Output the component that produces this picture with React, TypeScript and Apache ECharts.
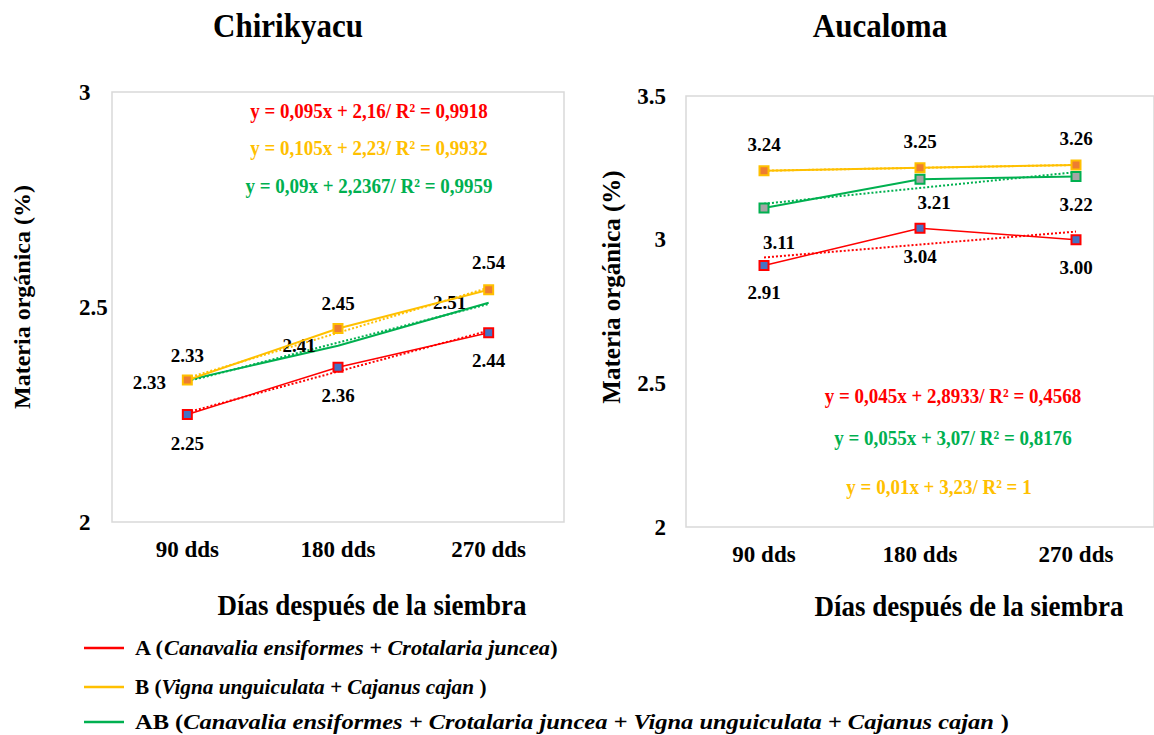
import React, { useEffect, useRef } from "react";
import * as echarts from "echarts";

const categories = ["90 dds", "180 dds", "270 dds"];
const yTicksChiri = { min: 2, max: 3, interval: 0.5 };
const yTicksAuca = { min: 2, max: 3.5, interval: 0.5 };

// Chirikyacu
const chiriA = [2.25, 2.36, 2.44];
const chiriB = [2.33, 2.45, 2.54];
const chiriAB = [2.33, 2.41, 2.51];
const chiriTrendA = [2.255, 2.35, 2.445];
const chiriTrendB = [2.335, 2.44, 2.545];
const chiriTrendAB = [2.327, 2.417, 2.507];

// Aucaloma
const aucaA = [2.91, 3.04, 3.0];
const aucaB = [3.24, 3.25, 3.26];
const aucaAB = [3.11, 3.21, 3.22];
const aucaTrendA = [2.938, 2.983, 3.028];
const aucaTrendB = [3.24, 3.25, 3.26];
const aucaTrendAB = [3.125, 3.18, 3.235];

const eqChiri = [
  { text: "y = 0,095x + 2,16/ R² = 0,9918", color: "#FF0000" },
  { text: "y = 0,105x + 2,23/ R² = 0,9932", color: "#FFC000" },
  { text: "y = 0,09x + 2,2367/ R² = 0,9959", color: "#00B050" },
];
const eqAuca = [
  { text: "y = 0,045x + 2,8933/ R² = 0,4568", color: "#FF0000" },
  { text: "y = 0,055x + 3,07/ R² = 0,8176", color: "#00B050" },
  { text: "y = 0,01x + 3,23/ R² = 1", color: "#FFC000" },
];

const legendItems = [
  { code: "A (", species: "Canavalia ensiformes + Crotalaria juncea", end: ")", color: "#FF0000" },
  { code: "B (", species: "Vigna unguiculata + Cajanus cajan", end: " )", color: "#FFC000" },
  {
    code: "AB (",
    species: "Canavalia ensiformes + Crotalaria juncea + Vigna unguiculata + Cajanus cajan",
    end: " )",
    color: "#00B050",
  },
];

const FONT = "Liberation Serif";
const RED = "#FF0000";
const GOLD = "#FFC000";
const GREEN = "#00B050";

function withLabels(values: number[], offsets: number[][]) {
  return values.map((v, i) => ({
    value: v,
    label: {
      show: true,
      position: "inside",
      offset: offsets[i],
      formatter: (p: any) => Number(p.value).toFixed(2),
      color: "#000",
      fontFamily: FONT,
      fontWeight: "bold",
      fontSize: 19,
    },
  }));
}

function trend(name: string, data: number[], color: string, idx: number) {
  return {
    name,
    type: "line",
    xAxisIndex: idx,
    yAxisIndex: idx,
    data,
    showSymbol: false,
    symbol: "none",
    lineStyle: { color, width: 2, type: [2, 2] },
    z: 2,
    silent: true,
  };
}

function mainLine(
  name: string,
  data: any[],
  color: string,
  width: number,
  symbolFill: string | null,
  idx: number,
  z: number
) {
  return {
    name,
    type: "line",
    xAxisIndex: idx,
    yAxisIndex: idx,
    data,
    symbol: "rect",
    showSymbol: true,
    symbolSize: symbolFill ? 9 : 1,
    itemStyle: symbolFill
      ? { color: symbolFill, borderColor: color, borderWidth: 2 }
      : { color: "rgba(0,0,0,0)", borderWidth: 0 },
    lineStyle: { color, width },
    z,
  };
}

function txt(x: number, y: number, text: string, size: number, color = "#000", rotation = 0, sy = 1.12) {
  return {
    type: "text",
    x,
    y,
    rotation,
    scaleY: sy,
    z: 10,
    style: {
      text,
      fontFamily: FONT,
      fontWeight: "bold",
      fontSize: size,
      fill: color,
      align: "center",
      verticalAlign: "middle",
    },
  };
}

export default function App() {
  const ref = useRef<HTMLDivElement>(null);
  useEffect(() => {
    document.body.style.margin = "0";
    const chart = echarts.init(ref.current!, undefined, { renderer: "svg" });

    const axisLabelX = {
      color: "#000",
      fontFamily: FONT,
      fontWeight: "bold",
      fontSize: 23,
      margin: 16,
    };

    const graphic: any[] = [];
    graphic.push(txt(288, 25, "Chirikyacu", 31));
    graphic.push(txt(880, 25, "Aucaloma", 31));
    graphic.push(txt(22, 297, "Materia orgánica (%)", 24, "#000", Math.PI / 2, 1));
    graphic.push(txt(611, 287, "Materia orgánica (%)", 25, "#000", Math.PI / 2, 1));
    graphic.push(txt(372, 604, "Días después de la siembra", 27));
    graphic.push(txt(969, 605, "Días después de la siembra", 27));

    const eqChiriY = [111, 148, 186];
    eqChiri.forEach((e, i) => graphic.push(txt(369, eqChiriY[i], e.text, 19, e.color)));
    const eqAucaX = [953, 953, 939];
    const eqAucaY = [396, 438, 487];
    eqAuca.forEach((e, i) => graphic.push(txt(eqAucaX[i], eqAucaY[i], e.text, 19, e.color)));

    const legY = [648, 687, 722];
    const legStretch = [1.06, 1.01, 1.165];
    legendItems.forEach((l, i) => {
      graphic.push({
        type: "line",
        shape: { x1: 84, y1: legY[i], x2: 124, y2: legY[i] },
        style: { stroke: l.color, lineWidth: 2.5 },
      });
      graphic.push({
        type: "text",
        x: 135,
        y: legY[i],
        scaleX: legStretch[i],
        style: {
          text: `{b|${l.code}}{i|${l.species}}{b|${l.end}}`,
          verticalAlign: "middle",
          align: "left",
          fill: "#000",
          fontFamily: FONT,
          fontWeight: "bold",
          fontSize: 21,
          rich: {
            b: { fontFamily: FONT, fontWeight: "bold", fontSize: 21, fill: "#000" },
            i: { fontFamily: FONT, fontWeight: "bold", fontStyle: "italic", fontSize: 21, fill: "#000" },
          },
        },
      });
    });

    const option: any = {
      animation: false,
      backgroundColor: "#fff",
      textStyle: { fontFamily: FONT },
      grid: [
        { left: 112, top: 92, width: 452, height: 430, show: true, borderColor: "#D9D9D9", borderWidth: 1.5, backgroundColor: "#fff" },
        { left: 686, top: 96, width: 470, height: 431, show: true, borderColor: "#D9D9D9", borderWidth: 1.5, backgroundColor: "#fff" },
      ],
      xAxis: [0, 1].map((i) => ({
        type: "category",
        gridIndex: i,
        data: categories,
        boundaryGap: true,
        axisLine: { show: false },
        axisTick: { show: false },
        splitLine: { show: false },
        axisLabel: axisLabelX,
      })),
      yAxis: [
        {
          type: "value",
          gridIndex: 0,
          ...yTicksChiri,
          axisLine: { show: false },
          axisTick: { show: false },
          splitLine: { show: false },
          axisLabel: { color: "#000", fontFamily: FONT, fontWeight: "bold", fontSize: 23, align: "left", margin: 33 },
        },
        {
          type: "value",
          gridIndex: 1,
          ...yTicksAuca,
          axisLine: { show: false },
          axisTick: { show: false },
          splitLine: { show: false },
          axisLabel: { color: "#000", fontFamily: FONT, fontWeight: "bold", fontSize: 23, align: "right", margin: 20 },
        },
      ],
      graphic,
      series: [
        trend("Tendencia A", chiriTrendA, RED, 0),
        trend("Tendencia AB", chiriTrendAB, GREEN, 0),
        trend("Tendencia B", chiriTrendB, GOLD, 0),
        mainLine("A", withLabels(chiriA, [[0, 29], [0, 28], [0, 28]]), RED, 1.5, "#4472C4", 0, 3),
        mainLine("AB", withLabels(chiriAB, [[-38, 2], [-39, 0], [-39, 0]]), GREEN, 2, null, 0, 4),
        mainLine("B", withLabels(chiriB, [[0, -25], [0, -25], [0, -27]]), GOLD, 2, "#ED7D31", 0, 5),

        trend("Tendencia A", aucaTrendA, RED, 1),
        trend("Tendencia AB", aucaTrendAB, GREEN, 1),
        trend("Tendencia B", aucaTrendB, GOLD, 1),
        mainLine("A", withLabels(aucaA, [[0, 27], [0, 28], [0, 28]]), RED, 1.5, "#4472C4", 1, 3),
        mainLine("AB", withLabels(aucaAB, [[15, 34], [14, 23], [0, 28]]), GREEN, 2, "#A5A5A5", 1, 4),
        mainLine("B", withLabels(aucaB, [[0, -26], [0, -26], [0, -26]]), GOLD, 2, "#ED7D31", 1, 5),
      ],
    };
    chart.setOption(option);
    return () => chart.dispose();
  }, []);
  return <div ref={ref} style={{ width: 1154, height: 735 }} />;
}
